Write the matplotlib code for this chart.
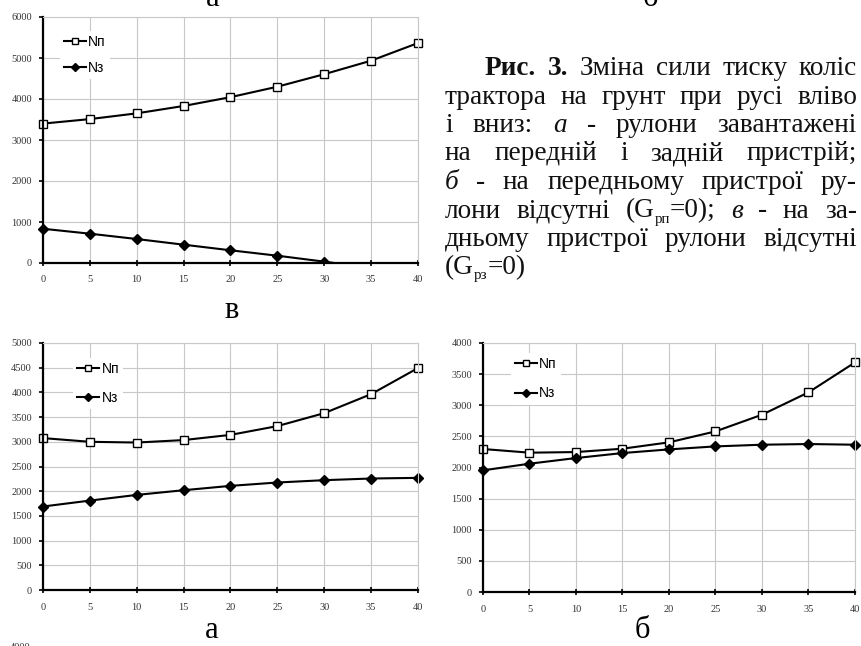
"Fig. 3: wheel pressure on the ground, three load cases"

import re

import matplotlib.pyplot as plt
import numpy as np
from matplotlib.transforms import Bbox, IdentityTransform, TransformedBbox

plt.rcParams['font.family'] = ['Liberation Serif', 'DejaVu Serif']

W, H = 862, 646

####
# Data
####

angle = [0, 5, 10, 15, 20, 25, 30, 35, 40]

# в - rear device empty
v_np = [3400, 3510, 3650, 3830, 4045, 4300, 4605, 4935, 5365]
v_nz = [835, 715, 585, 447, 310, 178, 33, -120, -270]

# а - both devices loaded
a_np = [3075, 3000, 2985, 3035, 3140, 3318, 3580, 3965, 4493]
a_nz = [1690, 1810, 1925, 2020, 2108, 2176, 2223, 2257, 2270]

# б - front device empty
b_np = [2297, 2238, 2248, 2302, 2404, 2580, 2848, 3207, 3688]
b_nz = [1954, 2061, 2152, 2232, 2291, 2339, 2366, 2377, 2366]

series_labels = ['Nп', 'Nз']

caption_lines = [
    "**Рис.** **3.** Зміна сили тиску коліс",
    "трактора на грунт при русі вліво",
    "і вниз: *а* - рулони завантажені",
    "на передній і задній пристрій;",
    "*б* - на передньому пристрої ру-",
    "лони відсутні (G_рп_=0); *в* - на за-",
    "дньому пристрої рулони відсутні",
    "(G_рз_=0)",
]


####
# Utils
####


def px_rect(left, top, right, bottom):
    "Axes rectangle from pixel edges (top-left origin)"
    return [left / W, 1 - bottom / H, (right - left) / W, (bottom - top) / H]


def panel(fig, rect, n_p, n_z, ymax, ystep, anchor, spacing):
    "Draws one chart with the two force curves"
    ax = fig.add_axes(rect)
    clip = TransformedBbox(Bbox([[-3, 0], [43, ymax * 1.05]]), ax.transData)

    lp, = ax.plot(angle, n_p, color='black', lw=1.5, marker='s', ms=6,
                  mfc='white', mec='black', mew=1.0, label=series_labels[0])
    lz, = ax.plot(angle, n_z, color='black', lw=1.5, marker='D', ms=5,
                  mfc='black', mec='black', label=series_labels[1])
    for line in (lp, lz):
        line.set_clip_box(clip)

    ax.set_xlim(0, 40)
    ax.set_ylim(0, ymax)
    ax.set_xticks(angle)
    ax.set_yticks(np.arange(0, ymax + 1, ystep))
    ax.grid(color='#c8c8c8', lw=0.8)
    ax.set_axisbelow(True)

    for s in ['top', 'right']:
        ax.spines[s].set_color('#c8c8c8')
        ax.spines[s].set_linewidth(0.8)
    for s in ['left', 'bottom']:
        ax.spines[s].set_color('black')
        ax.spines[s].set_linewidth(1.6)

    ax.tick_params(labelsize=7.5, labelcolor='#333333', length=3, width=1.2,
                   direction='out')
    ax.tick_params(axis='y', pad=5)
    ax.tick_params(axis='x', direction='inout', length=4, pad=7)

    ax.legend(loc='upper left', bbox_to_anchor=anchor, frameon=True,
              fancybox=False, edgecolor='none', facecolor='white', framealpha=1,
              prop={'family': 'Liberation Sans', 'size': 10}, handlelength=1.6,
              handletextpad=0.15, labelspacing=spacing, borderpad=0.3,
              markerscale=0.75, borderaxespad=0)
    return ax


def parse_word(word):
    "Splits a word into (text, style) pieces"
    parts = []
    for part in re.split(r'(\*\*.+?\*\*|\*.+?\*|_.+?_)', word):
        if not part:
            continue
        if part.startswith('**'):
            parts.append((part[2:-2], 'b'))
        elif part.startswith('*'):
            parts.append((part[1:-1], 'i'))
        elif part.startswith('_'):
            parts.append((part[1:-1], 's'))
        else:
            parts.append((part, 'n'))
    return parts


def caption(fig, x0, x_first, x1, y_first, dy, size):
    "Draws the justified caption block"
    renderer = fig.canvas.get_renderer()
    for i, line in enumerate(caption_lines):
        left = x_first if i == 0 else x0
        y = H - (y_first + i * dy)

        # Create each piece and measure it
        words = []
        for w in line.split():
            pieces = []
            for txt, style in parse_word(w):
                kw = dict(fontsize=size, va='baseline', ha='left',
                          transform=IdentityTransform(), color='#111111')
                if style == 'b':
                    kw['fontweight'] = 'bold'
                elif style == 'i':
                    kw['fontstyle'] = 'italic'
                elif style == 's':
                    kw['fontsize'] = size * 0.55
                t = fig.text(0, y, txt, **kw)
                width = t.get_window_extent(renderer).width
                pieces.append((t, width, style))
            words.append(pieces)

        widths = [sum(p[1] for p in pieces) for pieces in words]
        if i < len(caption_lines) - 1 and len(words) > 1:
            gap = (x1 - left - sum(widths)) / (len(words) - 1)
        else:
            gap = size * 100 / 72 * 0.25

        # Place pieces along the line
        x = left
        for pieces, width in zip(words, widths):
            cx = x
            for t, pw, style in pieces:
                ty = y - 5 if style == 's' else y
                t.set_position((cx, ty))
                cx += pw
            x += width + gap


####
# Figure
####

fig = plt.figure(figsize=(W / 100, H / 100), dpi=100)

panel(fig, px_rect(43, 17, 418, 263), v_np, v_nz, 6000, 1000,
      (0.045, 0.945), 0.87)
panel(fig, px_rect(43, 343, 418, 590), a_np, a_nz, 5000, 500,
      (0.08, 0.94), 1.1)
panel(fig, px_rect(483, 343, 855, 592), b_np, b_nz, 4000, 500,
      (0.075, 0.96), 1.1)

# Panel letters (top two belong to charts cut off above)
fig.text(213 / W, 1 + 2 / H, 'а', fontsize=22, ha='center', va='center')
fig.text(650 / W, 1 + 2 / H, 'б', fontsize=22, ha='center', va='center')
fig.text(232 / W, 1 - 310 / H, 'в', fontsize=22, ha='center', va='center')
fig.text(212 / W, 1 - 630 / H, 'а', fontsize=22, ha='center', va='center')
fig.text(642 / W, 1 - 631 / H, 'б', fontsize=22, ha='center', va='center')
fig.text(20 / W, 1 - 648 / H, '4000', fontsize=7.5, color='#333333',
         ha='center', va='center')

caption(fig, 445, 485, 857, 75, 28.5, 19.6)

fig.savefig('out.png', dpi=100)
